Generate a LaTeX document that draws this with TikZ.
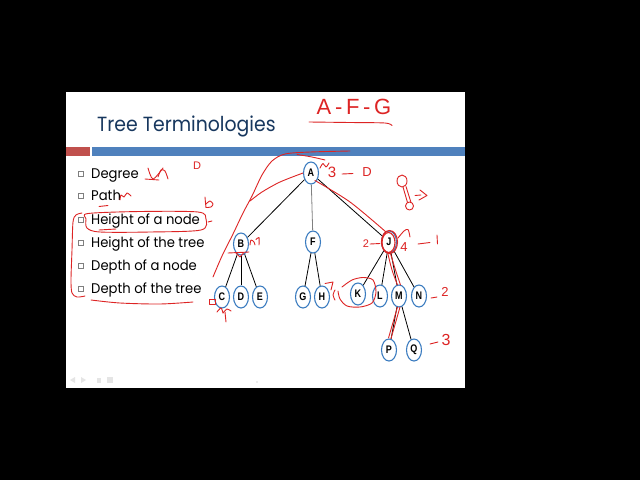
\documentclass[tikz,border=0pt]{standalone}
\usepackage{fontspec}
\setmainfont{Poppins}
\newfontfamily\nodefont[FakeStretch=0.82]{Liberation Sans}
\newfontfamily\handfont{Liberation Sans}
\usetikzlibrary{shapes.geometric}
\definecolor{slideblue}{HTML}{4F81BD}
\definecolor{slidered}{HTML}{C0504D}
\definecolor{titleblue}{HTML}{17375E}
\definecolor{nodeblue}{HTML}{3B7CC0}
\definecolor{pen}{HTML}{DD2424}
\definecolor{boxgray}{HTML}{7F7F7F}
\tikzset{
  treenode/.style={ellipse, draw=nodeblue, line width=1.1pt, fill=white,
    minimum width=15pt, minimum height=22pt, inner sep=0pt,
    font={\fontsize{11}{11}\nodefont\bfseries}},
  edge/.style={draw=black, line width=0.8pt},
  bullettext/.style={anchor=base west, inner sep=0pt, font={\fontsize{14}{14}\selectfont}},
  bulletbox/.style={draw=boxgray, line width=0.6pt, fill=white, minimum size=5pt, inner sep=0pt},
  pen/.style={draw=pen, line width=0.9pt, line cap=round, line join=round},
  handtext/.style={text=pen, inner sep=0pt, font={\handfont}}
}
\begin{document}
\begin{tikzpicture}[x=1pt,y=-1pt]
\fill[black] (0,0) rectangle (640,480);
\useasboundingbox (0,0) rectangle (640,480);
% slide
\fill[white] (66,92) rectangle (465,388);
\fill[slidered] (66,147) rectangle (90,156);
\fill[slideblue] (92,147) rectangle (465,156);
\node[anchor=base west, inner sep=0pt, text=titleblue, font={\fontsize{20.5}{20.5}\selectfont}] (title) at (97,131) {\scalebox{0.92}[1]{Tree Terminologies}};
% bullets
\foreach \t/\yy/\nm in {Degree/178/b1, Path/200/b2, Height of a node/224/b3, Height of the tree/247/b4, Depth of a node/270/b5, Depth of the tree/293/b6}{
  \node[bulletbox] (box\nm) at (81,\yy-4.5) {};
  \node[bullettext] (\nm) at (91,\yy) {\scalebox{0.94}[1]{\t}};
}
% footer marks
\fill[gray!20] (70,380) -- (75,377) -- (75,383) -- cycle;
\fill[gray!20] (86,380) -- (81,377) -- (81,383) -- cycle;
\fill[gray!20] (97,377.5) rectangle (101,382.5);
\fill[gray!20] (107,377) rectangle (113,383);
\fill[gray!30] (257,382) circle (0.8);
% tree
\node[treenode] (A) at (311,173) {A};
\node[treenode] (B) at (241,244) {B};
\node[treenode] (F) at (313,242) {F};
\node[treenode] (J) at (389,242) {J};
\node[treenode] (C) at (222,297) {C};
\node[treenode] (D) at (241,297) {D};
\node[treenode] (E) at (260,297) {E};
\node[treenode] (G) at (303,297) {G};
\node[treenode] (H) at (322,297) {H};
\node[treenode] (K) at (358,294) {K};
\node[treenode] (L) at (380,296) {L};
\node[treenode] (M) at (399,296) {M};
\node[treenode] (N) at (419,296) {N};
\node[treenode] (P) at (389,350) {P};
\node[treenode] (Q) at (414,350) {Q};
\draw[edge] (A) -- (B);
\draw[edge, draw=gray] (A) -- (F);
\draw[edge] (A) -- (J);
\draw[edge] (B) -- (C);
\draw[edge] (B) -- (D);
\draw[edge] (B) -- (E);
\draw[edge] (F) -- (G);
\draw[edge] (F) -- (H);
\draw[edge] (J) -- (K);
\draw[edge] (J) -- (L);
\draw[edge] (J) -- (M);
\draw[edge] (J) -- (N);
\draw[edge] (M) -- (P);
\draw[edge] (M) -- (Q);
% ---- handwritten annotations ----
\node[handtext, font={\fontsize{22}{22}\handfont}] (afg) at (354,107) {A\,-\,F\,-\,G};
\draw[pen] plot[smooth] coordinates {(309,122) (350,122.5) (385,123) (392,125.5)};
% big curves at left of tree
\draw[pen] plot[smooth] coordinates {(213,277) (222,256) (233,234) (243,213) (252,196) (262,175) (272,161) (285,154) (310,152) (350,151)};
\draw[pen] plot[smooth] coordinates {(297,154.5) (312,157) (325,160)};
\draw[pen] plot[smooth] coordinates {(250,201) (262,192) (280,182) (303,173)};
% Degree scribble
\draw[pen] plot[smooth] coordinates {(148,168) (153,179) (163,168)};
\draw[pen] plot[smooth] coordinates {(158,177) (161,170) (165,171) (168,179)};
\draw[pen] (145,179) -- (159,180);
\node[handtext, font={\fontsize{11}{11}\handfont}] (dnote) at (197,166) {D};
% Path scribble
\draw[pen] plot[smooth] coordinates {(120,200) (121,195) (124,197) (127,193) (131,196)};
\draw[pen] (99,206.5) -- (108,205.5);
% loop around Height of a node
\draw[pen] plot[smooth cycle] coordinates {(88,213.5) (140,211.5) (198,212) (206,219) (201,230) (150,232) (100,232) (87,228) (86,219)};
\draw[pen] (99,230) -- (116,229);
\draw[pen] (208,222) -- (212,221);
\draw[pen] plot[smooth] coordinates {(205,197) (205.5,203) (206,207.5)};
\draw[pen] plot[smooth] coordinates {(206,204) (210,201) (213,204) (211,207) (206,207.5)};
% left bracket and underline
\draw[pen] plot[smooth] coordinates {(82,213) (76,215) (73,222) (72,250) (71,280) (72,293) (77,297) (85,296)};
\draw[pen] plot[smooth] coordinates {(91,300) (120,303) (160,304) (193,302)};
% near A
\draw[pen] plot[smooth] coordinates {(320,168) (323,163.5) (326,167) (329,163)};
\node[handtext, font={\fontsize{15}{15}\handfont}] (three) at (332,172) {3};
\draw[pen] (342,174) -- (353,173.5);
\node[handtext, font={\fontsize{13}{13}\handfont}] (zero) at (367,172) {D};
% A to J highlight
\draw[pen] plot[smooth] coordinates {(315,180.5) (350,202) (386,232)};
% dumbbell
\draw[pen] (402,181) ellipse (5 and 6);
\draw[pen] (409.5,206) ellipse (4 and 4);
\draw[pen] (403,187) -- (407.5,202.5);
\draw[pen] (406,186.5) -- (411,202.5);
\draw[pen] (415,195.5) -- (421,195);
\draw[pen] (420,190) -- (427,195.5) -- (419,200);
% J circled and labels
\draw[pen, line width=1.1pt] (388.5,242.5) ellipse (6.5 and 10);
\draw[pen, line width=1.1pt] (389.5,242) ellipse (8 and 11.5);
\node[handtext, font={\fontsize{11}{11}\handfont}] (two) at (366,244) {2};
\draw[pen] (370,244) -- (380,243.5);
\draw[pen] plot[smooth] coordinates {(398,238) (404,231) (408,229.5) (410,237)};
\node[handtext, font={\fontsize{13}{13}\handfont}] (four) at (404,247) {4};
\draw[pen] (418,244) -- (430,242.5);
\draw[pen] (437,235) -- (437.5,244);
% J to M to P path
\draw[pen] plot[smooth] coordinates {(387.5,252) (392,270) (397.5,285)};
\draw[pen] plot[smooth] coordinates {(390,252) (395.5,270) (400.5,285)};
\draw[pen] (397.5,307) -- (388.5,338);
\draw[pen] (400,307) -- (391,338.5);
% loop around K and mark near H
\draw[pen] plot[smooth] coordinates {(342,287) (352,280) (363,277.5) (373,280) (376,292) (372,303) (360,307) (347,306) (340,299) (338,291)};
\draw[pen] (325,283.5) -- (333,282) -- (331,290);
\draw[pen] plot[smooth] coordinates {(335,290) (333,295) (335,300)};
% near B
\draw[pen] (228,253) -- (249,252);
\draw[pen] (236,253) -- (240,257) -- (244,252.5);
\draw[pen] plot[smooth] coordinates {(250,245) (251,240) (254,242) (255,245)};
\draw[pen] plot[smooth] coordinates {(256,239.5) (259,237.5) (259,245)};
% near C
\draw[pen, line width=0.8pt] (209,299) rectangle (215,304);
\draw[pen] plot[smooth] coordinates {(217,312) (221,308) (223,313)};
\draw[pen] plot[smooth] coordinates {(223,313) (227,309) (231,311)};
\draw[pen] (225,312) -- (226,322);
% level labels
\draw[pen] (431,298) -- (437,297);
\node[handtext, font={\fontsize{13}{13}\handfont}] (lvltwo) at (445,292) {2};
\draw[pen] (430,344) -- (438,342);
\node[handtext, font={\fontsize{16}{16}\handfont}] (lvlthree) at (446,340) {3};
\end{tikzpicture}
\end{document}
